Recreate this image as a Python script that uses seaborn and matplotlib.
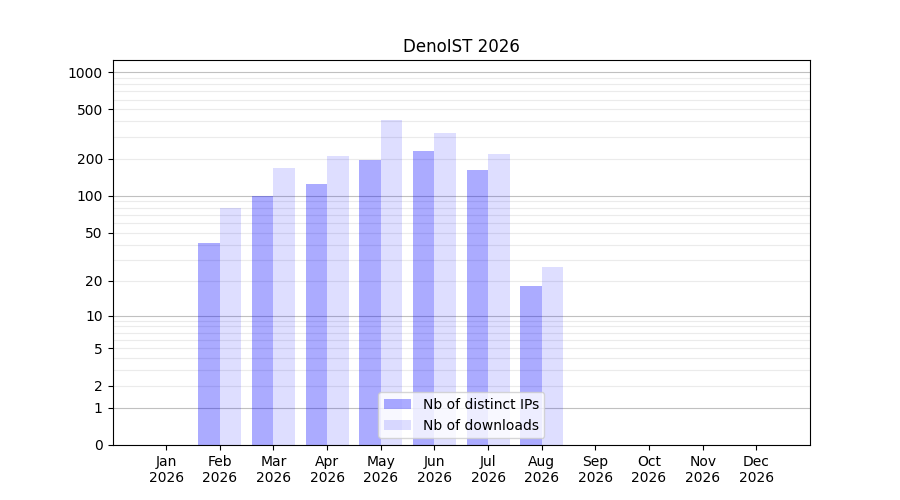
import numpy as np
import pandas as pd
import matplotlib
matplotlib.use("Agg")
import matplotlib.pyplot as plt
import seaborn as sns

months = ["Jan", "Feb", "Mar", "Apr", "May", "Jun", "Jul", "Aug", "Sep", "Oct", "Nov", "Dec"]
year = "2026"
distinct_ips = [0, 41, 100, 124, 194, 230, 161, 18, 0, 0, 0, 0]
downloads = [0, 79, 167, 209, 409, 321, 217, 26, 0, 0, 0, 0]
series_names = ["Nb of distinct IPs", "Nb of downloads"]
series_alpha = [0.33, 0.13]
ytick_values = [0, 1, 2, 5, 10, 20, 50, 100, 200, 500, 1000]
major_grid = [1, 10, 100, 1000]

df = pd.DataFrame({
    "month": months * 2,
    "series": [series_names[0]] * len(months) + [series_names[1]] * len(months),
    "value": distinct_ips + downloads,
})

fig, ax = plt.subplots(figsize=(9, 5), dpi=100)

sns.barplot(data=df, x="month", y="value", hue="series", hue_order=series_names,
            palette=["blue", "blue"], width=0.8, saturation=1, legend=False, ax=ax)

for cont, a, name in zip(ax.containers, series_alpha, series_names):
    for bar in cont:
        bar.set_alpha(a)
        bar.set_edgecolor("none")
    cont.set_label(name)

# log10(1 + x) scale
ax.set_yscale("function", functions=(lambda v: np.log10(1 + np.clip(v, 0, None)),
                                     lambda v: 10 ** v - 1))
ax.set_ylim(0, 1250)
ax.set_xlim(-1, 12)

ax.set_yticks(ytick_values)
ax.set_yticklabels([str(v) for v in ytick_values])
minor = [m * 10 ** d for d in range(3) for m in range(2, 10)]
ax.set_yticks(minor, minor=True)
ax.tick_params(axis="y", which="minor", length=0)
ax.grid(True, axis="y", which="minor", color="#ebebeb", linewidth=0.8)
ax.grid(True, axis="y", which="major", color="#c0c0c0", linewidth=0.8)
for tick, v in zip(ax.yaxis.get_major_ticks(), ytick_values):
    if v not in major_grid:
        tick.gridline.set_color("#ebebeb")
ax.set_axisbelow(True)

ax.set_xticks(range(len(months)))
ax.set_xticklabels([f"{m}\n{year}" for m in months])
ax.set_xlabel("")
ax.set_ylabel("")
ax.set_title("DenoIST " + year)

ax.legend(loc="lower center")

fig.subplots_adjust(left=0.125, right=0.9, top=0.88, bottom=0.11)
fig.savefig("out.png", dpi=100)
